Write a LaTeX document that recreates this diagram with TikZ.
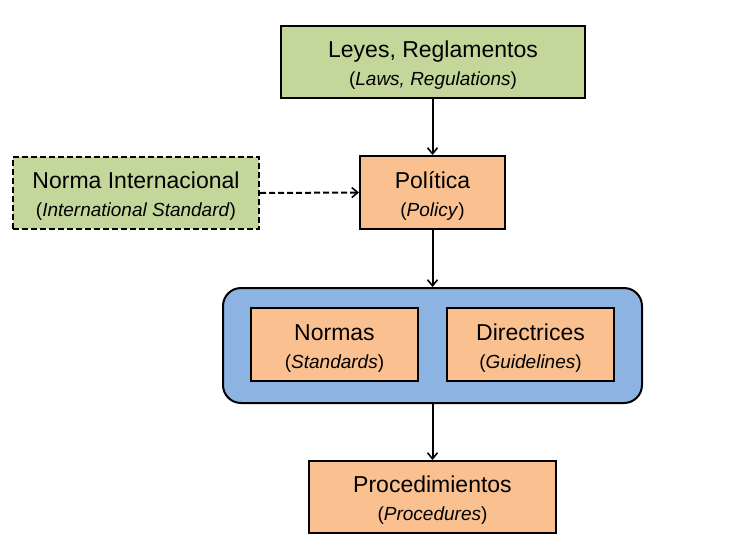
\documentclass[tikz,border=0pt]{standalone}
\usepackage{fontspec}
\setmainfont{Liberation Sans}
\usetikzlibrary{arrows.meta}
\definecolor{boxgreen}{HTML}{C4D79B}
\definecolor{boxorange}{HTML}{FAC090}
\definecolor{boxblue}{HTML}{8DB3E2}
\tikzset{
  box/.style={draw=black, line width=2pt, rectangle, inner sep=0pt, align=center,
    font=\fontsize{23}{27}\selectfont},
  container/.style={draw=black, line width=2pt, rectangle, rounded corners=18pt, fill=boxblue, inner sep=0pt},
  conn/.style={line width=2pt, -{Straight Barb[length=6pt,width=10pt,line width=1.6pt]}},
}
\newcommand{\lbl}[2]{\raisebox{-4.5pt}[\height][\depth]{\begin{tabular}{@{}c@{}}#1\\[1pt]{\fontsize{19}{23}\selectfont(\textit{#2})}\end{tabular}}}
\begin{document}
\begin{tikzpicture}[x=1pt,y=-1pt]
\useasboundingbox (0,0) rectangle (744,552);
\node[box, fill=boxgreen, minimum width=304pt, minimum height=72pt] (leyes) at (433,62)
  {\lbl{Leyes, Reglamentos}{Laws, Regulations}};
\node[box, fill=boxgreen, dashed, dash pattern=on 6pt off 3pt, minimum width=246pt, minimum height=72pt] (intl) at (136,193)
  {\lbl{Norma Internacional}{International Standard}};
\node[box, fill=boxorange, minimum width=145pt, minimum height=73pt] (pol) at (432.5,192.5)
  {\lbl{Política}{Policy}};
\node[container, minimum width=419pt, minimum height=115pt] (cont) at (432.5,345.5) {};
\node[box, fill=boxorange, minimum width=167pt, minimum height=73pt] (normas) at (334.5,344.5)
  {\lbl{Normas}{Standards}};
\node[box, fill=boxorange, minimum width=167pt, minimum height=73pt] (dir) at (530.5,344.5)
  {\lbl{Directrices}{Guidelines}};
\node[box, fill=boxorange, minimum width=247pt, minimum height=72pt] (proc) at (432.5,497)
  {\lbl{Procedimientos}{Procedures}};
\draw[conn] (leyes.south -| pol.north) -- (pol.north);
\draw[conn, dashed, dash pattern=on 6pt off 3pt] (intl.east) -- (pol.west);
\draw[conn] (pol.south) -- (cont.north);
\draw[conn] (cont.south) -- (proc.north);
\end{tikzpicture}
\end{document}
